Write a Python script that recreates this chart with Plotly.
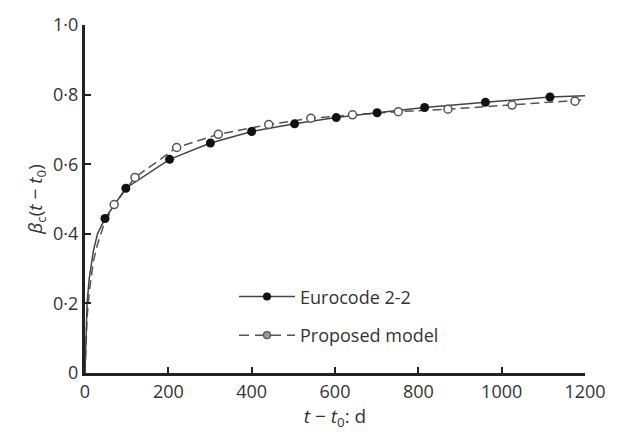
import plotly.graph_objects as go

# Eurocode 2-2 curve (line) and its markers
ec_line_t = [0, 2, 5, 10, 20, 30, 48, 98, 203, 301, 400, 503, 603, 701, 815, 961, 1116, 1200]
ec_line_b = [0, 0.12, 0.2, 0.27, 0.35, 0.40, 0.444, 0.531, 0.614, 0.661, 0.694, 0.716, 0.734, 0.748, 0.763, 0.778, 0.793, 0.797]
ec_mark_t = [48, 98, 203, 301, 400, 503, 603, 701, 815, 961, 1116]
ec_mark_b = [0.444, 0.531, 0.614, 0.661, 0.694, 0.716, 0.734, 0.748, 0.763, 0.778, 0.793]

# Proposed model curve and markers
pm_line_t = [0, 2, 5, 10, 20, 30, 45, 70, 120, 220, 320, 441, 542, 642, 752, 871, 1025, 1176, 1200]
pm_line_b = [0, 0.09, 0.16, 0.23, 0.32, 0.37, 0.425, 0.484, 0.562, 0.648, 0.686, 0.714, 0.732, 0.742, 0.751, 0.758, 0.770, 0.781, 0.785]
pm_mark_t = [70, 120, 220, 320, 441, 542, 642, 752, 871, 1025, 1176]
pm_mark_b = [0.484, 0.562, 0.648, 0.686, 0.714, 0.732, 0.742, 0.751, 0.758, 0.770, 0.781]

x_ticks = [0, 200, 400, 600, 800, 1000, 1200]
y_ticks = [0, 0.2, 0.4, 0.6, 0.8, 1.0]
y_tick_text = ["0", "0·2", "0·4", "0·6", "0·8", "1·0"]

FONT = "Open Sans"
TXT = "#333333"

fig = go.Figure()
fig.add_trace(go.Scatter(x=pm_line_t, y=pm_line_b, mode="lines", showlegend=False,
                         line=dict(color="#555555", width=1.5, dash="9px,5px"), hoverinfo="skip"))
fig.add_trace(go.Scatter(x=ec_line_t, y=ec_line_b, mode="lines", showlegend=False,
                         line=dict(color="#444444", width=1.5), hoverinfo="skip"))
fig.add_trace(go.Scatter(x=pm_mark_t, y=pm_mark_b, mode="markers", showlegend=False,
                         marker=dict(symbol="circle", size=8, color="white",
                                     line=dict(color="#555555", width=1.5))))
fig.add_trace(go.Scatter(x=ec_mark_t, y=ec_mark_b, mode="markers", showlegend=False,
                         marker=dict(symbol="circle", size=9, color="#111111",
                                     line=dict(color="#111111", width=0))))
# legend entries
fig.add_trace(go.Scatter(x=[None], y=[None], mode="lines+markers", name="Eurocode 2-2",
                         legend="legend",
                         line=dict(color="#444444", width=1.5),
                         marker=dict(symbol="circle", size=8, color="#111111")))
fig.add_trace(go.Scatter(x=[None], y=[None], mode="lines+markers", name="Proposed model",
                         legend="legend2",
                         line=dict(color="#555555", width=1.5, dash="10px,6px"),
                         marker=dict(symbol="circle", size=7, color="#999999",
                                     line=dict(color="#555555", width=1.2))))

leg_common = dict(xanchor="left", yanchor="top", bgcolor="rgba(0,0,0,0)",
                  font=dict(size=18, color=TXT), itemwidth=56)
fig.update_layout(
    width=618, height=432,
    margin=dict(l=85, r=33, t=21, b=55),
    paper_bgcolor="white", plot_bgcolor="white",
    font=dict(family=FONT, size=18, color=TXT),
    legend=dict(x=0.298, y=0.272, **leg_common),
    legend2=dict(x=0.298, y=0.161, **leg_common),
)
fig.update_xaxes(range=[0, 1200], tickvals=x_ticks, ticks="inside", ticklen=6,
                 tickwidth=2, tickcolor="#222222", showline=True, linewidth=3,
                 linecolor="#222222", showgrid=False, zeroline=False,
                 tickfont=dict(size=18, color=TXT),
                 title=dict(text="<i>t</i> − <i>t</i><sub>0</sub>: d", standoff=4,
                            font=dict(size=19, color=TXT)))
fig.update_yaxes(range=[0, 1.0], tickvals=y_ticks, ticktext=y_tick_text, ticks="inside",
                 ticklen=6, tickwidth=2, tickcolor="#222222", showline=True, linewidth=3,
                 linecolor="#222222", showgrid=False, zeroline=False,
                 tickfont=dict(size=18, color=TXT),
                 title=dict(text="<i>β</i><sub>c</sub>(<i>t</i> − <i>t</i><sub>0</sub>)", standoff=6,
                            font=dict(size=19, color=TXT)))

fig.write_html("out.html")
